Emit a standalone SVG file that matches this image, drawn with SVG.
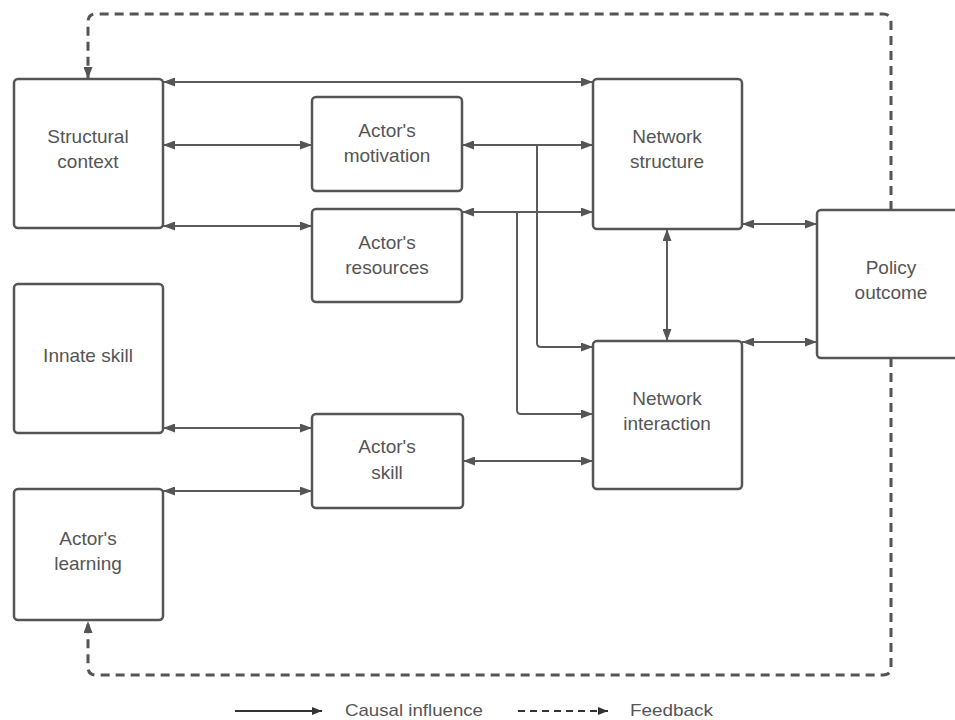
<svg xmlns="http://www.w3.org/2000/svg" width="955" height="720" viewBox="0 0 955 720">
<defs>
<marker id="ah" viewBox="0 0 12 9" refX="12" refY="4.5" markerWidth="12" markerHeight="9" markerUnits="userSpaceOnUse" orient="auto-start-reverse">
<path d="M0,0 L12,4.5 L0,9 z" fill="#555"/>
</marker>
<marker id="ahl" viewBox="0 0 10 8" refX="10" refY="4" markerWidth="10" markerHeight="8" markerUnits="userSpaceOnUse" orient="auto">
<path d="M0,0 L10,4 L0,8 z" fill="#333"/>
</marker>
<style>
.box{fill:#fff;stroke:#555;stroke-width:2.5}
.t{font-family:"Liberation Sans",Arial,sans-serif;font-size:19px;fill:#555;text-anchor:middle}
.c{fill:none;stroke:#5a5a5a;stroke-width:2}
.d{fill:none;stroke:#555;stroke-width:3;stroke-dasharray:9 6}
.lg{font-family:"Liberation Sans",Arial,sans-serif;font-size:17px;fill:#555}
</style>
</defs>
<rect width="955" height="720" fill="#fff"/>

<g id="connectors">
<path class="c" d="M163,82 H593" marker-start="url(#ah)" marker-end="url(#ah)"/>
<path class="c" d="M163,145 H312" marker-start="url(#ah)" marker-end="url(#ah)"/>
<path class="c" d="M163,226 H312" marker-start="url(#ah)" marker-end="url(#ah)"/>
<path class="c" d="M462,145 H593" marker-start="url(#ah)" marker-end="url(#ah)"/>
<path class="c" d="M537,145 V343 Q537,347 541,347 H593" marker-end="url(#ah)"/>
<path class="c" d="M462,212 H593" marker-start="url(#ah)" marker-end="url(#ah)"/>
<path class="c" d="M517,212 V410 Q517,414 521,414 H593" marker-end="url(#ah)"/>
<path class="c" d="M667,229 V341" marker-start="url(#ah)" marker-end="url(#ah)"/>
<path class="c" d="M742,224 H817" marker-start="url(#ah)" marker-end="url(#ah)"/>
<path class="c" d="M742,342 H817" marker-start="url(#ah)" marker-end="url(#ah)"/>
<path class="c" d="M163,428 H312" marker-start="url(#ah)" marker-end="url(#ah)"/>
<path class="c" d="M163,491 H312" marker-start="url(#ah)" marker-end="url(#ah)"/>
<path class="c" d="M463,461 H593" marker-start="url(#ah)" marker-end="url(#ah)"/>
<path class="d" d="M891,210 V22 Q891,14 883,14 H96 Q88,14 88,22 V79" marker-end="url(#ah)"/>
<path class="d" d="M891,358 V667 Q891,675 883,675 H96 Q88,675 88,667 V621" marker-end="url(#ah)"/>
</g>

<g id="structural-context">
<rect class="box" x="14" y="79" width="149" height="149" rx="4"/>
<text class="t" x="88" y="143">Structural</text>
<text class="t" x="88" y="168">context</text>
</g>
<g id="actors-motivation">
<rect class="box" x="312" y="97" width="150" height="94" rx="4"/>
<text class="t" x="387" y="137">Actor's</text>
<text class="t" x="387" y="162">motivation</text>
</g>
<g id="actors-resources">
<rect class="box" x="312" y="209" width="150" height="93" rx="4"/>
<text class="t" x="387" y="249">Actor's</text>
<text class="t" x="387" y="274">resources</text>
</g>
<g id="network-structure">
<rect class="box" x="593" y="79" width="149" height="150" rx="4"/>
<text class="t" x="667" y="143">Network</text>
<text class="t" x="667" y="168">structure</text>
</g>
<g id="policy-outcome">
<rect class="box" x="817" y="210" width="143" height="148" rx="4"/>
<text class="t" x="891" y="274">Policy</text>
<text class="t" x="891" y="299">outcome</text>
</g>
<g id="network-interaction">
<rect class="box" x="593" y="341" width="149" height="148" rx="4"/>
<text class="t" x="667" y="405">Network</text>
<text class="t" x="667" y="430">interaction</text>
</g>
<g id="innate-skill">
<rect class="box" x="14" y="284" width="149" height="149" rx="4"/>
<text class="t" x="88" y="362">Innate skill</text>
</g>
<g id="actors-skill">
<rect class="box" x="312" y="414" width="151" height="94" rx="4"/>
<text class="t" x="387" y="453">Actor's</text>
<text class="t" x="387" y="479">skill</text>
</g>
<g id="actors-learning">
<rect class="box" x="14" y="489" width="149" height="131" rx="4"/>
<text class="t" x="88" y="545">Actor's</text>
<text class="t" x="88" y="570">learning</text>
</g>

<g id="legend">
<path d="M235,711 H322" stroke="#333" stroke-width="2" fill="none" marker-end="url(#ahl)"/>
<text class="lg" x="345" y="716" textLength="138" lengthAdjust="spacingAndGlyphs">Causal influence</text>
<path d="M518,711 H608" stroke="#333" stroke-width="2" fill="none" stroke-dasharray="7 5" marker-end="url(#ahl)"/>
<text class="lg" x="630" y="716" textLength="83" lengthAdjust="spacingAndGlyphs">Feedback</text>
</g>
</svg>
